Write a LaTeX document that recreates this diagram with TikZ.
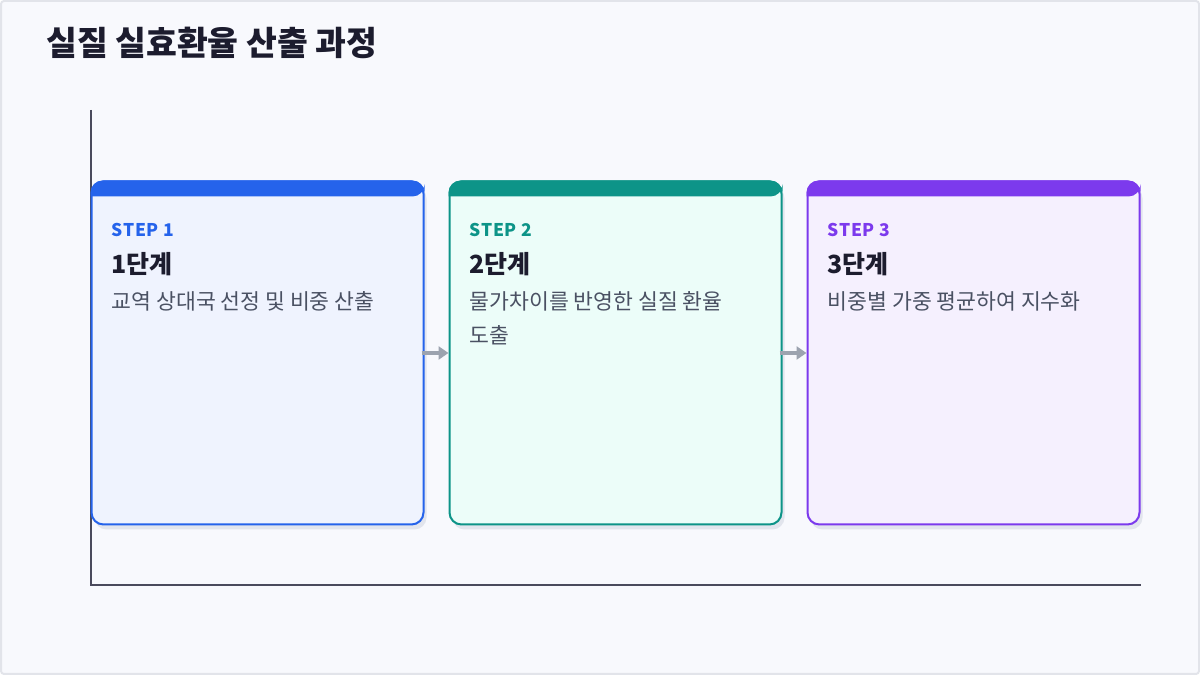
\documentclass[tikz,border=0pt]{standalone}
\usepackage{fontspec}
\setmainfont{Noto Sans CJK KR}
\newfontfamily\tagfont[LetterSpace=4]{Noto Sans CJK KR}
\usetikzlibrary{arrows.meta,positioning,shadows}
\definecolor{bgpage}{HTML}{F8F9FD}
\definecolor{framegray}{HTML}{E2E4EA}
\definecolor{axisgray}{HTML}{4A4A5C}
\definecolor{titleink}{HTML}{1C1C2E}
\definecolor{bodyink}{HTML}{4A5163}
\definecolor{arrowgray}{HTML}{9CA3AF}
\definecolor{shadowgray}{HTML}{E2E5ED}
\definecolor{blueline}{HTML}{2563EB}
\definecolor{bluefill}{HTML}{EFF3FE}
\definecolor{tealline}{HTML}{0D9488}
\definecolor{tealfill}{HTML}{ECFDF9}
\definecolor{purpline}{HTML}{7C3AED}
\definecolor{purpfill}{HTML}{F5F0FE}

\begin{document}
\begin{tikzpicture}[x=1pt,y=1pt,
	stepbox/.style n args={2}{draw=#1, fill=#2, line width=2pt, rounded corners=12pt,
		minimum width=332pt, minimum height=343pt, inner sep=0pt,
		drop shadow={shadow xshift=3pt, shadow yshift=-5pt, fill=shadowgray, opacity=1}},
	steptag/.style={anchor=west, inner sep=0pt, text=#1, font=\tagfont\fontsize{17.5}{17.5}\selectfont\bfseries},
	stephead/.style={anchor=west, inner sep=0pt, text=titleink, font=\fontsize{25}{25}\selectfont\bfseries},
	stepdesc/.style={anchor=north west, inner sep=0pt, align=left, text=bodyink, font=\fontsize{21.6}{34}\selectfont},
	flow/.style={arrowgray, line width=4pt, -{Triangle[length=10pt,width=13pt]}}]
	%%Page
	\useasboundingbox (0,0) rectangle (1200,675);
	\draw[framegray, fill=bgpage, line width=2pt, rounded corners=3pt] (1,1) rectangle (1199,674);
	%%Title
	\node[anchor=west, inner sep=0pt, text=titleink, font=\fontsize{33.5}{33.5}\selectfont\bfseries] (title) at (46,632) {실질 실효환율 산출 과정};
	%%Axis
	\coordinate (ytop) at (91,565);
	\coordinate (origin) at (91,90);
	\coordinate (xend) at (1141,90);
	\draw[axisgray, line width=2pt] (ytop) -- (origin) -- (xend);
	%%Boxes
	\node[stepbox={blueline}{bluefill}] (s1) at (257.5,322) {};
	\node[stepbox={tealline}{tealfill}, right=24pt of s1] (s2) {};
	\node[stepbox={purpline}{purpfill}, right=24pt of s2] (s3) {};
	%%Top bars
	\fill[blueline] ([yshift=-16pt]s1.north west) [rounded corners=12pt] -- (s1.north west) -- (s1.north east) -- ([yshift=-16pt]s1.north east) [sharp corners] -- cycle;
	\fill[tealline] ([yshift=-16pt]s2.north west) [rounded corners=12pt] -- (s2.north west) -- (s2.north east) -- ([yshift=-16pt]s2.north east) [sharp corners] -- cycle;
	\fill[purpline] ([yshift=-16pt]s3.north west) [rounded corners=12pt] -- (s3.north west) -- (s3.north east) -- ([yshift=-16pt]s3.north east) [sharp corners] -- cycle;
	%%Arrows
	\draw[flow] ([xshift=-3pt]s1.east) -- (s2.west);
	\draw[flow] ([xshift=-3pt]s2.east) -- (s3.west);
	%%Label
	\node[steptag=blueline] (tag1) at ([shift={(21pt,-49pt)}]s1.north west) {STEP 1};
	\node[stephead] (head1) at ([shift={(21pt,-84pt)}]s1.north west) {1단계};
	\node[stepdesc] (desc1) at ([shift={(21pt,-111pt)}]s1.north west) {교역 상대국 선정 및 비중 산출};
	\node[steptag=tealline] (tag2) at ([shift={(21pt,-49pt)}]s2.north west) {STEP 2};
	\node[stephead] (head2) at ([shift={(21pt,-84pt)}]s2.north west) {2단계};
	\node[stepdesc] (desc2) at ([shift={(21pt,-111pt)}]s2.north west) {물가차이를 반영한 실질 환율\\도출};
	\node[steptag=purpline] (tag3) at ([shift={(21pt,-49pt)}]s3.north west) {STEP 3};
	\node[stephead] (head3) at ([shift={(21pt,-84pt)}]s3.north west) {3단계};
	\node[stepdesc] (desc3) at ([shift={(21pt,-111pt)}]s3.north west) {비중별 가중 평균하여 지수화};
\end{tikzpicture}
\end{document}
